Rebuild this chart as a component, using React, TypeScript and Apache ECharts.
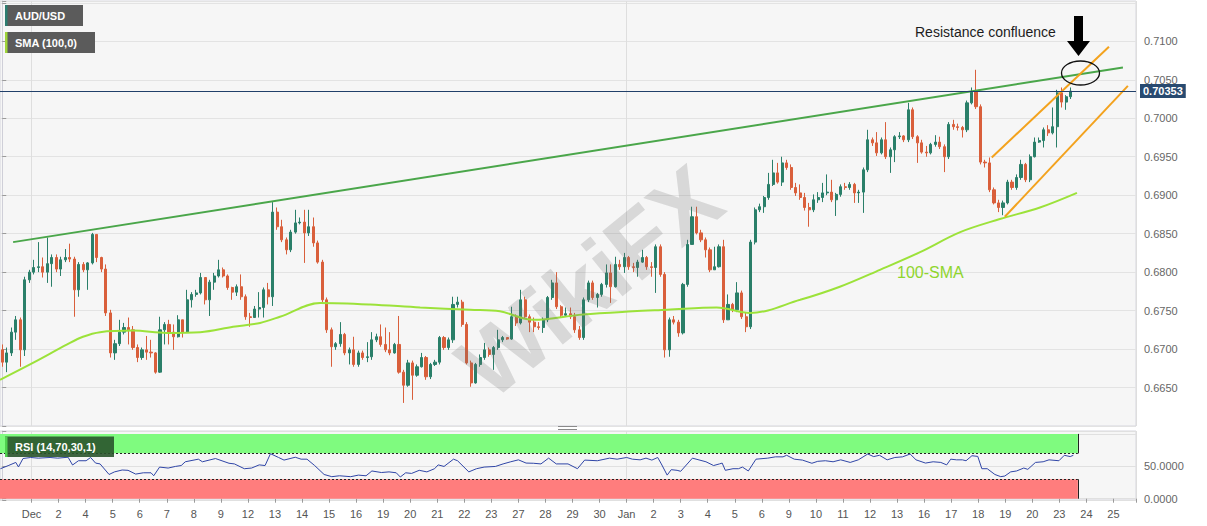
import React, { useEffect, useRef } from 'react';
import * as echarts from 'echarts';

const FONT = 'Liberation Sans, Arial, Helvetica, sans-serif';
const UP = '#2a7f69';
const DOWN = '#d95f3b';

// x-axis day labels (one per trading day, 6 four-hour candles each)
const dayLabels = ['Dec', '2', '4', '5', '6', '7', '8', '9', '12', '13', '14', '15', '16', '19', '20', '21', '22', '23', '27', '28', '29', '30', 'Jan', '2', '3', '4', '5', '6', '9', '10', '11', '12', '13', '16', '17', '18', '19', '20', '23', '24', '25'];
const SLOTS = 252;
const FIRST_DAY_SLOT = 7;
const SLOTS_PER_DAY = 6;
const MONTH_SLOTS = [7, 139];

const firstOpen = 0.6699;
const closes = [
  0.6683, 0.6695, 0.6722, 0.6738, 0.6699, 0.6790, 0.6800, 0.6806, 0.6807, 0.6800,
  0.6811, 0.6819, 0.6804, 0.6816, 0.6819, 0.6817, 0.6777, 0.6810, 0.6803, 0.6812,
  0.6849, 0.6819, 0.6804, 0.6747, 0.6695, 0.6707, 0.6722, 0.6728, 0.6725, 0.6702,
  0.6689, 0.6699, 0.6696, 0.6695, 0.6670, 0.6725, 0.6732, 0.6722, 0.6716, 0.6738,
  0.6722, 0.6764, 0.6771, 0.6773, 0.6793, 0.6764, 0.6787, 0.6795, 0.6803, 0.6795,
  0.6780, 0.6774, 0.6781, 0.6768, 0.6742, 0.6741, 0.6752, 0.6754, 0.6777, 0.6768,
  0.6878, 0.6859, 0.6842, 0.6829, 0.6852, 0.6864, 0.6865, 0.6851, 0.6859, 0.6838,
  0.6813, 0.6764, 0.6725, 0.6703, 0.6707, 0.6719, 0.6695, 0.6699, 0.6680, 0.6695,
  0.6689, 0.6690, 0.6712, 0.6716, 0.6706, 0.6699, 0.6695, 0.6706, 0.6670, 0.6653,
  0.6682, 0.6666, 0.6677, 0.6689, 0.6664, 0.6680, 0.6683, 0.6715, 0.6702, 0.6712,
  0.6758, 0.6761, 0.6732, 0.6682, 0.6656, 0.6680, 0.6689, 0.6699, 0.6693, 0.6702,
  0.6712, 0.6715, 0.6713, 0.6742, 0.6734, 0.6764, 0.6742, 0.6735, 0.6729, 0.6728,
  0.6738, 0.6767, 0.6786, 0.6755, 0.6744, 0.6746, 0.6742, 0.6725, 0.6715, 0.6764,
  0.6786, 0.6767, 0.6771, 0.6784, 0.6799, 0.6781, 0.6810, 0.6807, 0.6819, 0.6807,
  0.6806, 0.6813, 0.6819, 0.6807, 0.6806, 0.6833, 0.6797, 0.6699, 0.6738, 0.6735,
  0.6721, 0.6784, 0.6836, 0.6872, 0.6851, 0.6842, 0.6829, 0.6803, 0.6807, 0.6833,
  0.6738, 0.6758, 0.6751, 0.6773, 0.6742, 0.6729, 0.6839, 0.6881, 0.6885, 0.6897,
  0.6914, 0.6929, 0.6917, 0.6942, 0.6936, 0.6910, 0.6903, 0.6897, 0.6884, 0.6881,
  0.6894, 0.6897, 0.6903, 0.6904, 0.6894, 0.6901, 0.6911, 0.6910, 0.6914, 0.6903,
  0.6904, 0.6933, 0.6972, 0.6968, 0.6955, 0.6972, 0.6950, 0.6959, 0.6976, 0.6977,
  0.6972, 0.7011, 0.6976, 0.6968, 0.6956, 0.6955, 0.6966, 0.6969, 0.6963, 0.6950,
  0.6992, 0.6989, 0.6988, 0.6985, 0.7020, 0.7034, 0.7015, 0.6943, 0.6942, 0.6907,
  0.6890, 0.6884, 0.6890, 0.6917, 0.6910, 0.6923, 0.6940, 0.6920, 0.6950, 0.6969,
  0.6971, 0.6985, 0.6981, 0.6989, 0.7033, 0.7021, 0.7028, 0.70353,
];
const highs = [
  0.6706, 0.6702, 0.6728, 0.6743, 0.6741, 0.6794, 0.6803, 0.6816, 0.6839, 0.6819,
  0.6845, 0.6823, 0.6823, 0.6820, 0.6830, 0.6837, 0.6820, 0.6813, 0.6813, 0.6813,
  0.6851, 0.6849, 0.6820, 0.6810, 0.6751, 0.6712, 0.6738, 0.6734, 0.6741, 0.6730,
  0.6706, 0.6702, 0.6717, 0.6712, 0.6696, 0.6742, 0.6735, 0.6738, 0.6732, 0.6744,
  0.6738, 0.6777, 0.6774, 0.6777, 0.6799, 0.6786, 0.6790, 0.6799, 0.6816, 0.6806,
  0.6797, 0.6781, 0.6784, 0.6797, 0.6771, 0.6747, 0.6756, 0.6774, 0.6780, 0.6786,
  0.6891, 0.6884, 0.6868, 0.6845, 0.6855, 0.6881, 0.6871, 0.6881, 0.6881, 0.6871,
  0.6841, 0.6816, 0.6767, 0.6728, 0.6709, 0.6735, 0.6721, 0.6702, 0.6716, 0.6698,
  0.6698, 0.6709, 0.6722, 0.6720, 0.6732, 0.6728, 0.6722, 0.6708, 0.6743, 0.6673,
  0.6686, 0.6685, 0.6680, 0.6695, 0.6691, 0.6682, 0.6686, 0.6717, 0.6717, 0.6715,
  0.6768, 0.6768, 0.6764, 0.6735, 0.6685, 0.6682, 0.6693, 0.6708, 0.6702, 0.6704,
  0.6725, 0.6717, 0.6715, 0.6755, 0.6745, 0.6777, 0.6768, 0.6745, 0.6741, 0.6735,
  0.6741, 0.6769, 0.6790, 0.6800, 0.6757, 0.6754, 0.6754, 0.6747, 0.6730, 0.6767,
  0.6789, 0.6789, 0.6773, 0.6786, 0.6810, 0.6810, 0.6820, 0.6816, 0.6825, 0.6821,
  0.6812, 0.6816, 0.6829, 0.6821, 0.6813, 0.6836, 0.6836, 0.6800, 0.6741, 0.6743,
  0.6738, 0.6786, 0.6842, 0.6885, 0.6885, 0.6855, 0.6845, 0.6832, 0.6833, 0.6836,
  0.6842, 0.6771, 0.6760, 0.6787, 0.6776, 0.6747, 0.6842, 0.6884, 0.6889, 0.6899,
  0.6929, 0.6946, 0.6942, 0.6950, 0.6946, 0.6940, 0.6916, 0.6914, 0.6903, 0.6890,
  0.6901, 0.6904, 0.6916, 0.6927, 0.6920, 0.6903, 0.6914, 0.6916, 0.6917, 0.6916,
  0.6907, 0.6936, 0.6985, 0.6975, 0.6982, 0.6975, 0.6995, 0.6962, 0.6978, 0.6982,
  0.6978, 0.7020, 0.7014, 0.6978, 0.6972, 0.6964, 0.6968, 0.6978, 0.6976, 0.6966,
  0.6995, 0.6998, 0.6993, 0.6990, 0.7023, 0.7040, 0.7063, 0.7018, 0.6946, 0.6949,
  0.6910, 0.6894, 0.6893, 0.6920, 0.6920, 0.6927, 0.6946, 0.6942, 0.6953, 0.6975,
  0.6975, 0.6988, 0.6991, 0.7014, 0.7037, 0.7040, 0.7030, 0.7040,
];
const lows = [
  0.6677, 0.6670, 0.6691, 0.6712, 0.6677, 0.6691, 0.6786, 0.6797, 0.6800, 0.6793,
  0.6786, 0.6781, 0.6800, 0.6795, 0.6813, 0.6813, 0.6742, 0.6768, 0.6800, 0.6777,
  0.6810, 0.6813, 0.6800, 0.6743, 0.6689, 0.6686, 0.6704, 0.6719, 0.6706, 0.6699,
  0.6683, 0.6686, 0.6686, 0.6689, 0.6668, 0.6669, 0.6706, 0.6706, 0.6699, 0.6715,
  0.6715, 0.6722, 0.6754, 0.6768, 0.6771, 0.6758, 0.6743, 0.6777, 0.6793, 0.6793,
  0.6777, 0.6764, 0.6769, 0.6764, 0.6738, 0.6729, 0.6741, 0.6741, 0.6741, 0.6758,
  0.6756, 0.6855, 0.6839, 0.6823, 0.6826, 0.6850, 0.6862, 0.6812, 0.6847, 0.6833,
  0.6811, 0.6761, 0.6721, 0.6677, 0.6699, 0.6703, 0.6692, 0.6680, 0.6677, 0.6677,
  0.6686, 0.6683, 0.6686, 0.6709, 0.6703, 0.6696, 0.6692, 0.6694, 0.6668, 0.6630,
  0.6651, 0.6634, 0.6664, 0.6676, 0.6660, 0.6661, 0.6678, 0.6680, 0.6699, 0.6699,
  0.6708, 0.6754, 0.6729, 0.6680, 0.6651, 0.6655, 0.6677, 0.6686, 0.6690, 0.6673,
  0.6699, 0.6709, 0.6712, 0.6712, 0.6730, 0.6732, 0.6739, 0.6722, 0.6722, 0.6725,
  0.6721, 0.6735, 0.6764, 0.6752, 0.6741, 0.6743, 0.6739, 0.6721, 0.6712, 0.6712,
  0.6761, 0.6764, 0.6754, 0.6768, 0.6780, 0.6760, 0.6780, 0.6803, 0.6799, 0.6803,
  0.6800, 0.6794, 0.6812, 0.6803, 0.6794, 0.6773, 0.6794, 0.6689, 0.6690, 0.6732,
  0.6716, 0.6719, 0.6781, 0.6839, 0.6849, 0.6839, 0.6819, 0.6800, 0.6803, 0.6806,
  0.6734, 0.6738, 0.6748, 0.6748, 0.6739, 0.6722, 0.6726, 0.6836, 0.6878, 0.6877,
  0.6894, 0.6912, 0.6915, 0.6912, 0.6933, 0.6907, 0.6899, 0.6894, 0.6880, 0.6859,
  0.6878, 0.6890, 0.6891, 0.6900, 0.6891, 0.6873, 0.6898, 0.6907, 0.6907, 0.6890,
  0.6890, 0.6877, 0.6930, 0.6964, 0.6951, 0.6953, 0.6947, 0.6929, 0.6943, 0.6973,
  0.6969, 0.6969, 0.6973, 0.6942, 0.6954, 0.6950, 0.6953, 0.6963, 0.6960, 0.6930,
  0.6947, 0.6985, 0.6984, 0.6975, 0.6982, 0.7018, 0.7012, 0.6940, 0.6936, 0.6904,
  0.6888, 0.6878, 0.6874, 0.6888, 0.6907, 0.6907, 0.6920, 0.6917, 0.6917, 0.6949,
  0.6968, 0.6962, 0.6977, 0.6979, 0.6962, 0.7014, 0.7011, 0.7025,
];

// 100-period SMA: [candle index, price]
const smaPoints = [
  [-0.5, 0.6660], [6.8, 0.6682], [14.4, 0.6706], [17.9, 0.6716], [21.7, 0.6722], [29, 0.6724],
  [36.5, 0.6721], [43.9, 0.6722], [51.2, 0.6729], [57.2, 0.6734], [61.6, 0.6742], [70.5, 0.6760],
  [81.6, 0.6758], [92.7, 0.6754], [103.8, 0.6751], [110.4, 0.6749], [117.7, 0.6738], [128.8, 0.6745],
  [139.9, 0.6749], [147.5, 0.6751], [158.5, 0.6754], [165.9, 0.6747], [177, 0.6764], [185.8, 0.6781],
  [194.7, 0.6803], [203.6, 0.6826], [212.5, 0.6852], [221.3, 0.6869], [230.2, 0.6884], [238.4, 0.6903],
];
const trendLine = [[2.4, 0.6839], [248.6, 0.7066]];
const channelUpper = [[219.5, 0.6949], [245.5, 0.7093]];
const channelLower = [[222.4, 0.6872], [249.7, 0.7042]];
const lastPrice = 0.70353;

// RSI(14): [candle index, value]
const rsiPoints = [
  [-0.4, 46.3], [1.3, 51], [3, 56], [3.6, 49], [4.6, 62], [6.3, 63.6], [8, 62.6], [10.6, 63.6], [12.3, 62.6],
  [14.6, 64], [15.6, 52], [16.9, 58.6], [18.6, 58.6], [19.6, 63.6], [20.7, 55], [21.7, 53.7], [23.7, 37.4],
  [24.9, 41.4], [26.6, 44.3], [27.9, 43.8], [29.6, 38], [31.3, 40], [33, 40], [33.6, 35.4], [34.9, 48.8],
  [36.8, 47.3], [38.4, 49.8], [39.7, 51.2], [40.6, 57], [43.5, 61], [44.4, 57], [47.3, 62], [50.3, 54.7],
  [51.5, 53.7], [53.7, 46.3], [55.3, 47.3], [57, 52.2], [58.3, 51.2], [59.5, 69.5], [61.3, 63.6], [62.5, 59.6],
  [65, 64], [66.3, 61], [67.6, 61], [69.3, 51.2], [71.4, 37.4], [73.1, 34], [74.8, 35.4], [77.3, 34],
  [79, 36.4], [80.7, 35.4], [82, 42.8], [84.1, 40.4], [85.8, 41.4], [87.4, 40], [88.3, 33.5], [89.5, 40],
  [90.8, 39], [92.5, 43.8], [94.2, 41.4], [95.9, 46.3], [96.7, 52.2], [98, 49.8], [100.1, 61], [101, 58.6],
  [103.5, 41.4], [105.2, 46.3], [106.9, 48.8], [109.4, 49.8], [111.1, 53.7], [112.8, 57], [114.5, 60],
  [116.2, 55], [117.8, 54.7], [119.5, 53.7], [121.2, 62.6], [122.9, 53.7], [125.5, 53.7], [127.6, 46.3],
  [129.2, 59.6], [132, 58.6], [134.7, 62.6], [136.4, 61], [138.5, 63.6], [139.8, 61], [141.5, 60],
  [142.8, 62.6], [144.1, 59.6], [145.4, 63.6], [146.2, 53.7], [147.5, 36.4], [148.4, 44.8], [149.7, 43.8],
  [150.5, 42.3], [153.1, 62.6], [156.1, 57], [157.8, 51.2], [159.1, 53.7], [159.7, 55], [160.4, 43.8],
  [162.1, 46.3], [163.3, 46.3], [164.2, 48.8], [165.5, 42.8], [167.2, 61], [169.8, 62.6], [171.5, 64.6],
  [173.2, 64.6], [174, 67], [175.7, 61], [177.5, 59.6], [179.6, 54.7], [180.9, 57.7], [182.6, 58.6],
  [184.3, 57], [186, 60], [188.1, 56], [189.9, 60], [192, 69], [193.3, 65], [194.6, 67], [196.3, 60],
  [198, 63.6], [199.7, 64.6], [201.4, 69], [202.7, 60], [204.8, 55], [206.5, 57], [208.2, 56], [209.5, 52.2],
  [210.4, 61], [211.7, 60], [213, 60], [213.8, 58.6], [215.1, 66.3], [216.4, 65.3], [217.3, 46.3],
  [218.5, 46.3], [220.2, 37.4], [221.5, 34], [222.4, 35], [223.7, 41.4], [225, 42.8], [226.6, 47.3],
  [227.5, 45.3], [229.2, 56], [230.9, 57], [232.2, 60], [234.4, 58.6], [235.6, 67], [236.9, 65], [237.6, 67],
];
const RSI_END = 238.6;

const labelAt = (idx: number): string | null => {
  if (idx < FIRST_DAY_SLOT || (idx - FIRST_DAY_SLOT) % SLOTS_PER_DAY !== 0) return null;
  const k = (idx - FIRST_DAY_SLOT) / SLOTS_PER_DAY;
  return k < dayLabels.length ? dayLabels[k] : null;
};

export default function App() {
  const ref = useRef<HTMLDivElement>(null);

  useEffect(() => {
    if (!ref.current) return;
    const chart = echarts.init(ref.current, undefined, { renderer: 'svg' });

    const cats = Array.from({ length: SLOTS }, (_, i) => String(i));
    const candleData = closes.map((c, i) => {
      const o = i === 0 ? firstOpen : closes[i - 1];
      return [o, c, Math.min(lows[i], o, c), Math.max(highs[i], o, c)];
    });
    const monthLine = (i: number) => MONTH_SLOTS.indexOf(i) >= 0;
    const dayTick = (i: number) => labelAt(i) !== null;

    const dashed = { color: '#222', width: 1, type: [2, 2] as any };
    const solid = { color: '#222', width: 1, type: 'solid' };

    const option: any = {
      animation: false,
      backgroundColor: '#ffffff',
      textStyle: { fontFamily: FONT },
      grid: [
        { left: 0, top: 1, width: 1136, height: 425, show: true, backgroundColor: '#f6f6f6', borderColor: '#d6d6de', borderWidth: 1 },
        { left: 0, top: 431, width: 1136, height: 69, show: true, backgroundColor: '#f6f6f6', borderColor: '#d6d6de', borderWidth: 1 },
      ],
      xAxis: [
        {
          type: 'category', gridIndex: 0, data: cats, boundaryGap: true,
          axisLine: { show: false }, axisTick: { show: false }, axisLabel: { show: false },
          splitLine: { show: true, interval: monthLine, lineStyle: { color: '#dedede', width: 1 } },
        },
        { type: 'value', gridIndex: 0, min: -0.5, max: SLOTS - 0.5, show: false },
        {
          type: 'category', gridIndex: 1, data: cats, boundaryGap: true,
          axisLine: { show: false },
          axisTick: { show: true, interval: dayTick, length: 4, lineStyle: { color: '#9a9a9a' } },
          axisLabel: {
            show: true, interval: dayTick, formatter: (_v: string, idx: number) => labelAt(idx) ?? '',
            color: '#555', fontSize: 11, margin: 8, padding: [0, 4.5, 0, 0], fontFamily: FONT,
          },
          splitLine: { show: true, interval: monthLine, lineStyle: { color: '#dedede', width: 1 } },
        },
        { type: 'value', gridIndex: 1, min: -0.5, max: SLOTS - 0.5, show: false },
      ],
      yAxis: [
        {
          type: 'value', gridIndex: 0, position: 'right', min: 0.66, max: 0.71524, interval: 0.005,
          axisLine: { show: true, lineStyle: { color: '#cfcfd8' } },
          axisTick: { show: true, length: 4, lineStyle: { color: '#9a9a9a' } },
          axisLabel: {
            color: '#666', fontSize: 11, margin: 8, fontFamily: FONT,
            formatter: (v: number) => (v > 0.6625 && v < 0.7125 ? v.toFixed(4) : ''),
          },
          splitLine: { show: true, lineStyle: { color: '#e3e3e3' } },
        },
        {
          type: 'value', gridIndex: 1, position: 'right', min: -2, max: 104.5, splitNumber: 2,
          axisLine: { show: true, lineStyle: { color: '#cfcfd8' } },
          axisTick: { show: true, length: 4, lineStyle: { color: '#9a9a9a' } },
          axisLabel: {
            color: '#666', fontSize: 11, margin: 8, fontFamily: FONT,
            formatter: (v: number) => (Math.abs(v) < 1e-9 || Math.abs(v - 50) < 1e-9 ? v.toFixed(4) : ''),
          },
          splitLine: { show: true, lineStyle: { color: '#e0e0e0' } },
        },
      ],
      series: [
        {
          type: 'candlestick', name: 'AUD/USD', xAxisIndex: 0, yAxisIndex: 0, data: candleData, barWidth: 2.6,
          itemStyle: { color: UP, color0: DOWN, borderColor: UP, borderColor0: DOWN, borderWidth: 1 },
        },
        {
          type: 'line', name: 'SMA (100,0)', xAxisIndex: 1, yAxisIndex: 0, data: smaPoints, smooth: 0.35,
          symbol: 'none', lineStyle: { color: '#9ce23a', width: 2 }, z: 3,
        },
        {
          type: 'line', xAxisIndex: 1, yAxisIndex: 0, data: trendLine, symbol: 'none',
          lineStyle: { color: '#4aa64a', width: 2 }, z: 4,
          markLine: {
            silent: true, symbol: ['none', 'none'], precision: 5, data: [{ yAxis: lastPrice }],
            lineStyle: { color: '#21406a', width: 1, type: 'solid' },
            label: {
              show: true, position: 'end', formatter: lastPrice.toFixed(5), color: '#fff',
              backgroundColor: '#284a70', padding: [2, 3, 1, 3], fontSize: 11, fontWeight: 'bold',
              distance: 4, fontFamily: FONT,
            },
          },
        },
        {
          type: 'line', xAxisIndex: 1, yAxisIndex: 0, data: channelUpper, symbol: 'none',
          lineStyle: { color: '#f3a21d', width: 2 }, z: 4,
        },
        {
          type: 'line', xAxisIndex: 1, yAxisIndex: 0, data: channelLower, symbol: 'none',
          lineStyle: { color: '#f3a21d', width: 2 }, z: 4,
        },
        {
          type: 'line', name: 'RSI (14,70,30,1)', xAxisIndex: 3, yAxisIndex: 1, data: rsiPoints, symbol: 'none',
          lineStyle: { color: '#2f45a6', width: 1 }, z: 5,
          markArea: {
            silent: true,
            data: [
              [{ xAxis: -0.5, yAxis: 70, itemStyle: { color: '#7ffb7f' } }, { xAxis: RSI_END, yAxis: 100 }],
              [{ xAxis: -0.5, yAxis: 0, itemStyle: { color: '#ff7d7d' } }, { xAxis: RSI_END, yAxis: 30 }],
            ],
          },
          markLine: {
            silent: true, symbol: ['none', 'none'], label: { show: false },
            data: [
              [{ coord: [-0.5, 70], lineStyle: dashed }, { coord: [RSI_END, 70], lineStyle: dashed }],
              [{ coord: [-0.5, 30], lineStyle: dashed }, { coord: [RSI_END, 30], lineStyle: dashed }],
              [{ coord: [RSI_END, 70], lineStyle: solid }, { coord: [RSI_END, 100], lineStyle: solid }],
              [{ coord: [RSI_END, 0], lineStyle: solid }, { coord: [RSI_END, 30], lineStyle: solid }],
            ],
          },
        },
      ],
      graphic: [
        // watermark
        {
          type: 'text', x: 590, y: 282, rotation: 0.68, z: 40, silent: true,
          style: { text: 'WikiFX', font: `bold 92px ${FONT}`, fill: 'rgba(110,110,110,0.22)', textAlign: 'center', textVerticalAlign: 'middle', align: 'center', verticalAlign: 'middle' },
        },
        // legend boxes
        { type: 'rect', z: 100, shape: { x: 5, y: 5, width: 78, height: 21 }, style: { fill: '#5b5b5b' } },
        { type: 'rect', z: 101, shape: { x: 5, y: 5, width: 2.5, height: 21 }, style: { fill: '#2c7d70' } },
        { type: 'text', z: 102, x: 15, y: 15.5, style: { text: 'AUD/USD', font: `bold 11px ${FONT}`, fill: '#ffffff', textVerticalAlign: 'middle', verticalAlign: 'middle' } },
        { type: 'rect', z: 100, shape: { x: 5, y: 32, width: 90, height: 21 }, style: { fill: '#5b5b5b' } },
        { type: 'rect', z: 101, shape: { x: 5, y: 32, width: 2.5, height: 21 }, style: { fill: '#9fd53a' } },
        { type: 'text', z: 102, x: 15, y: 42.5, style: { text: 'SMA (100,0)', font: `bold 11px ${FONT}`, fill: '#ffffff', textVerticalAlign: 'middle', verticalAlign: 'middle' } },
        { type: 'rect', z: 100, shape: { x: 5, y: 436.5, width: 109, height: 20.5 }, style: { fill: 'rgba(42,84,44,0.9)' } },
        { type: 'rect', z: 101, shape: { x: 5, y: 436.5, width: 2.5, height: 20.5 }, style: { fill: '#4fd04f' } },
        { type: 'text', z: 102, x: 15, y: 447, style: { text: 'RSI (14,70,30,1)', font: `bold 11px ${FONT}`, fill: '#ffffff', textVerticalAlign: 'middle', verticalAlign: 'middle' } },
        // annotations
        { type: 'text', z: 102, x: 915, y: 31.5, style: { text: 'Resistance confluence', font: `14px ${FONT}`, fill: '#1c1c1c', textVerticalAlign: 'middle', verticalAlign: 'middle' } },
        {
          type: 'polygon', z: 102,
          shape: { points: [[1074, 16], [1083, 16], [1083, 41], [1090, 41], [1078.5, 56], [1067, 41], [1074, 41]] },
          style: { fill: '#000000' },
        },
        { type: 'ellipse', z: 102, shape: { cx: 1080.5, cy: 73, rx: 19, ry: 12 }, style: { fill: 'none', stroke: '#111111', lineWidth: 1.3 } },
        { type: 'text', z: 102, x: 897, y: 272, style: { text: '100-SMA', font: `16px ${FONT}`, fill: '#8fd52d', textVerticalAlign: 'middle', verticalAlign: 'middle' } },
        // panel splitter handle
        { type: 'line', z: 102, shape: { x1: 558, y1: 426.5, x2: 577, y2: 426.5 }, style: { stroke: '#8a8a8a', lineWidth: 1 } },
        { type: 'line', z: 102, shape: { x1: 558, y1: 429.5, x2: 577, y2: 429.5 }, style: { stroke: '#8a8a8a', lineWidth: 1 } },
      ],
    };

    chart.setOption(option);
    return () => chart.dispose();
  }, []);

  return <div ref={ref} style={{ position: 'absolute', left: 0, top: 0, width: 1207, height: 526 }} />;
}
